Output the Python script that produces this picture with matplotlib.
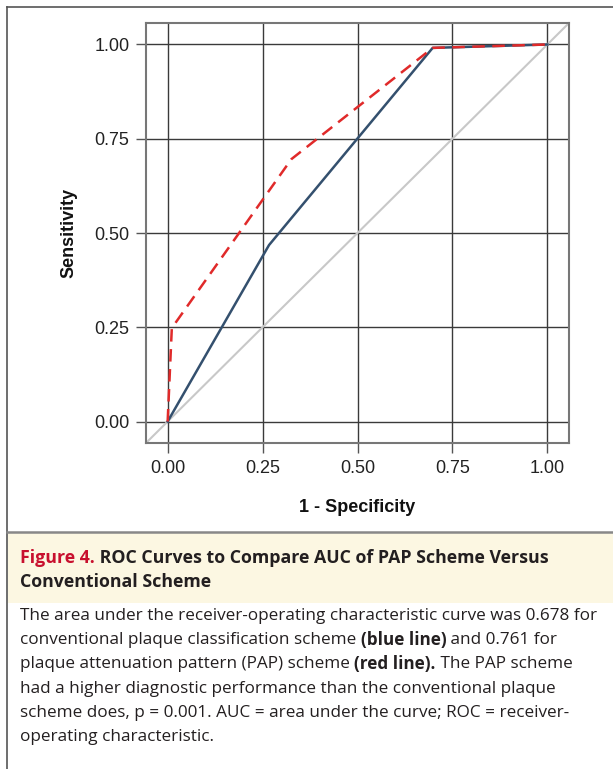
import matplotlib
matplotlib.use('Agg')
import matplotlib.pyplot as plt
from matplotlib.patches import Rectangle
from matplotlib.lines import Line2D

# ROC points
fpr_conv = [0.0, 0.267, 0.698, 1.0]
tpr_conv = [0.0, 0.468, 0.991, 1.0]
fpr_pap = [0.0, 0.011, 0.326, 0.698, 1.0]
tpr_pap = [0.0, 0.248, 0.696, 0.991, 1.0]
ticks = [0.0, 0.25, 0.5, 0.75, 1.0]
tick_labels = ['0.00', '0.25', '0.50', '0.75', '1.00']

W, H = 613, 769
fig = plt.figure(figsize=(W / 100, H / 100), dpi=100)


def px(x, y):
    return x / W, 1 - y / H


# axes box in pixels: left 146, top 23, right 569, bottom 443
ax = fig.add_axes([146 / W, 1 - 443 / H, (569 - 146) / W, (443 - 23) / H])
lo, hi = -0.057, 1.057
ax.set_xlim(lo, hi)
ax.set_ylim(lo, hi)
for t in ticks:
    ax.axvline(t, color='#3a3a3a', lw=1, zorder=1)
    ax.axhline(t, color='#3a3a3a', lw=1, zorder=1)
ax.plot([lo, hi], [lo, hi], color='#c8c8c8', lw=1.5, zorder=2)
ax.plot(fpr_conv, tpr_conv, color='#34506e', lw=1.8, zorder=3)
ax.plot(fpr_pap, tpr_pap, color='#e02a2a', lw=1.8, dashes=(5, 3), zorder=4)

ax.set_xticks(ticks)
ax.set_xticklabels(tick_labels)
ax.set_yticks(ticks)
ax.set_yticklabels(tick_labels)
ax.tick_params(length=7, width=1, color='#555555', labelsize=13,
               labelcolor='#222222', pad=5)
for s in ax.spines.values():
    s.set_color('#777777')
    s.set_linewidth(1.5)
for lab in ax.get_xticklabels() + ax.get_yticklabels():
    lab.set_family('Liberation Sans')
ax.set_xlabel('1 - Specificity', fontsize=13, fontweight='bold',
              family='Liberation Sans', labelpad=16, color='#111111')
ax.set_ylabel('Sensitivity', fontsize=13, fontweight='bold',
              family='Liberation Sans', labelpad=12, color='#111111')

# page frame
fig.add_artist(Line2D([7 / W, 1], [1 - 7 / H] * 2, color='#555555', lw=1.2))
fig.add_artist(Line2D([7 / W] * 2, [1 - 7 / H, 0], color='#555555', lw=1.2))
fig.add_artist(Rectangle(px(8, 603), (W - 8) / W, 70 / H, facecolor='#fcf7e2',
                         edgecolor='none', zorder=0))
fig.add_artist(Line2D([7 / W, 1], [1 - 532 / H] * 2, color='#888888', lw=1.8))

renderer = fig.canvas.get_renderer()
cap_font = 'Open Sans'


def rich_line(x, y, parts, size):
    # parts: list of (text, weight, color) drawn one after another
    for text, weight, color in parts:
        t = fig.text(x / W, 1 - y / H, text, fontsize=size, fontweight=weight,
                     color=color, family=cap_font, va='center', ha='left')
        bb = t.get_window_extent(renderer=renderer)
        x += bb.width


dark = '#231f20'
rich_line(20, 558, [('Figure 4.', 'bold', '#c8102e'),
                    (' ROC Curves to Compare AUC of PAP Scheme Versus', 'bold', dark)], 12.8)
rich_line(20, 582, [('Conventional Scheme', 'bold', dark)], 12.8)

body = [
    [('The area under the receiver-operating characteristic curve was 0.678 for', 'normal', dark)],
    [('conventional plaque classification scheme ', 'normal', dark),
     ('(blue line)', 'bold', dark), (' and 0.761 for', 'normal', dark)],
    [('plaque attenuation pattern (PAP) scheme ', 'normal', dark),
     ('(red line).', 'bold', dark), (' The PAP scheme', 'normal', dark)],
    [('had a higher diagnostic performance than the conventional plaque', 'normal', dark)],
    [('scheme does, p = 0.001. AUC = area under the curve; ROC = receiver-', 'normal', dark)],
    [('operating characteristic.', 'normal', dark)],
]
for i, parts in enumerate(body):
    rich_line(20, 616 + i * 24.2, parts, 12.35)

fig.savefig('out.png', dpi=100)
